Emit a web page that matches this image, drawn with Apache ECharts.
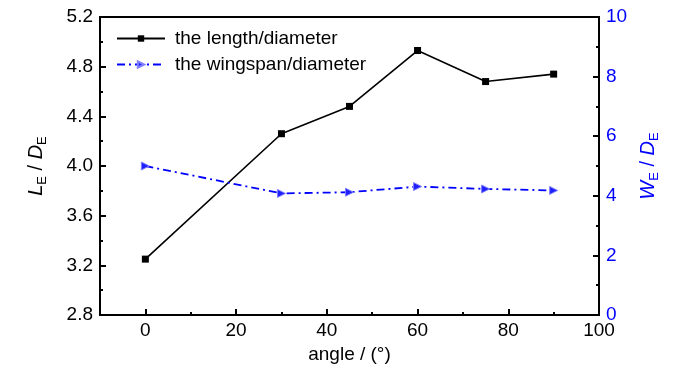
<!DOCTYPE html>
<html><head><meta charset="utf-8">
<script src="https://cdn.jsdelivr.net/npm/echarts@6/dist/echarts.min.js"></script>
<style>html,body{margin:0;padding:0;background:#fff}#c{width:700px;height:374px}</style>
</head><body><div id="c"></div>
<script>
const angles = [0, 30, 45, 60, 75, 90];
const lengthRatio = [3.25, 4.26, 4.48, 4.93, 4.68, 4.74];
const wingRatio = [5.0, 4.08, 4.12, 4.31, 4.23, 4.18];
const xTicks = [0, 20, 40, 60, 80, 100];
const seriesNames = ['the length/diameter', 'the wingspan/diameter'];

const FONT = '"Liberation Sans Narrow","Liberation Sans",Arial,sans-serif';
const chart = echarts.init(document.getElementById('c'));
const subRich = (color) => ({
  m: {fontFamily: FONT, fontSize: 20, fontStyle: 'italic', color, lineHeight: 20, verticalAlign: 'top'},
  t: {fontFamily: FONT, fontSize: 20, color, lineHeight: 20, verticalAlign: 'top'},
  s: {fontFamily: FONT, fontSize: 13, color, lineHeight: 10, padding: [10, 0, 0, 0], verticalAlign: 'top'}
});
chart.setOption({
  animation: false,
  grid: {left: 100, right: 101, top: 17, bottom: 59, show: true, borderColor: '#000', borderWidth: 2, backgroundColor: 'transparent'},
  legend: {
    left: 111, top: 24, orient: 'vertical', itemWidth: 48, itemHeight: 8, itemGap: 7,
    textStyle: {fontFamily: FONT, fontSize: 19, color: '#000', padding: [0, 0, 0, 5]},
    data: seriesNames
  },
  xAxis: [{
    type: 'value', min: -10, max: 100, position: 'bottom',
    axisLine: {onZero: false, lineStyle: {color: '#000', width: 2}},
    axisTick: {inside: true, length: 6, lineStyle: {width: 2, color: '#000'}, customValues: xTicks},
    axisLabel: {fontFamily: FONT, fontSize: 19, color: '#000', margin: 6, customValues: xTicks},
    splitLine: {show: false},
    name: 'angle / (°)', nameLocation: 'middle', nameGap: 30,
    nameTextStyle: {fontFamily: FONT, fontSize: 19, color: '#000'}
  }, {
    type: 'value', min: -10, max: 100, interval: 20, position: 'bottom',
    axisLine: {show: false, onZero: false},
    axisTick: {inside: true, length: 3, lineStyle: {width: 2, color: '#000'}},
    axisLabel: {show: false}, splitLine: {show: false}
  }],
  yAxis: [{
    type: 'value', min: 2.8, max: 5.2, interval: 0.4, position: 'left',
    axisLine: {show: true, onZero: false, lineStyle: {color: '#000', width: 2}},
    axisTick: {show: true, inside: true, length: 6, lineStyle: {width: 2, color: '#000'}},
    minorTick: {show: true, splitNumber: 2, length: 3, lineStyle: {width: 2, color: '#000'}},
    axisLabel: {fontFamily: FONT, fontSize: 19, color: '#000', margin: 7, formatter: v => v.toFixed(1)},
    splitLine: {show: false},
    name: '{m|L}{s|E}{t| / }{m|D}{s|E}', nameLocation: 'middle', nameGap: 54, nameRotate: 90,
    nameTextStyle: {rich: subRich('#000')}
  }, {
    type: 'value', min: 0, max: 10, interval: 2, position: 'right',
    axisLine: {show: true, onZero: false, lineStyle: {color: '#000', width: 2}},
    axisTick: {show: true, inside: true, length: 6, lineStyle: {width: 2, color: '#000'}},
    minorTick: {show: true, splitNumber: 2, length: 3, lineStyle: {width: 2, color: '#000'}},
    axisLabel: {fontFamily: FONT, fontSize: 19, color: '#0000ff', margin: 7},
    splitLine: {show: false},
    name: '{m|W}{s|E}{t| / }{m|D}{s|E}', nameLocation: 'middle', nameGap: 36, nameRotate: 90,
    nameTextStyle: {rich: subRich('#0000ff')}
  }],
  series: [{
    name: seriesNames[0], type: 'line', xAxisIndex: 0, yAxisIndex: 0,
    data: angles.map((a, i) => [a, lengthRatio[i]]),
    symbol: 'rect', symbolSize: 7, showAllSymbol: true,
    lineStyle: {color: '#000', width: 1.6},
    itemStyle: {color: '#000'}
  }, {
    name: seriesNames[1], type: 'line', xAxisIndex: 0, yAxisIndex: 1,
    data: angles.map((a, i) => [a, wingRatio[i]]),
    symbol: 'triangle', symbolRotate: -90, symbolSize: 8, showAllSymbol: true,
    lineStyle: {color: '#0000ff', width: 1.8, type: [8, 4, 2, 4]},
    itemStyle: {color: '#2020ff', borderColor: '#8080ff', borderWidth: 1}
  }]
});
</script></body></html>
